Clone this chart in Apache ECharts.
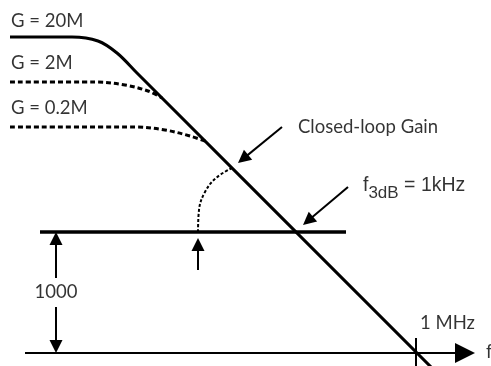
<!DOCTYPE html>
<html>
<head>
<meta charset="utf-8">
<script src="https://cdn.jsdelivr.net/npm/echarts@6/dist/echarts.min.js"></script>
<style>
  html, body { margin: 0; padding: 0; background: #fff; }
  #chart { width: 491px; height: 366px; }
</style>
</head>
<body>
<div id="chart"></div>
<script>
// Diagram units: x to the right, y upward, origin at bottom-left
const openLoopGain = [[10, 329], [72, 329], [98, 325], [117, 313], [137, 293], [433, -3]];
const gain2M = [[10, 284], [95, 284], [125, 281], [148, 275], [162, 268]];
const gain02M = [[10, 239], [135, 239], [165, 236], [190, 230], [205, 225]];
const closedLoopArc = [[198, 134], [199, 156], [205, 174], [216, 188], [232, 198]];

const closedLoopLevel = [[40, 134], [346, 134]];
const mhzTick = [[416, 28], [416, -2]];
const freqAxis = [[25, 13], [475, 13]];
// [tail, tip]
const dimArrows = [
  [[56, 88], [56, 134]],
  [[56, 59], [56, 13]],
  [[198, 96], [198, 128]],
];
const calloutArrows = [
  [[282, 239], [238, 203]],
  [[348, 179], [303, 141]],
];

const gainLabels = ["G = 20M", "G = 2M", "G = 0.2M"];
const gainLabelAt = [[11, 345], [11, 303], [11, 258]];
const noteLabels = ["Closed-loop Gain", "1 MHz", "f"];
const noteLabelAt = [[298, 239], [420, 43], [486, 14]];
const dimLabel = "1000";
const dimLabelAt = [56, 74];
const f3dbAt = [363, 173];

const chart = echarts.init(document.getElementById("chart"));

const calibriLike = "Lato";
const arialLike = "Liberation Sans";
const black = "#000";

// the triangle is centred on the line end, so pull the end back by half its length
function toHead(coords, headLen) {
  const [a, b] = coords;
  const dx = b[0] - a[0];
  const dy = b[1] - a[1];
  const len = Math.hypot(dx, dy);
  const k = (len - headLen / 2) / len;
  return [a, [a[0] + dx * k, a[1] + dy * k]];
}

function textPoint(xy, text, align) {
  return { value: [xy[0], xy[1], text], label: { align: align } };
}

const option = {
  animation: false,
  backgroundColor: "#fff",
  grid: { left: 0, right: 0, top: 0, bottom: 0 },
  xAxis: { type: "value", min: 0, max: 491, show: false },
  yAxis: { type: "value", min: 0, max: 366, show: false },
  series: [
    {
      type: "line",
      data: openLoopGain,
      smooth: 0.35,
      showSymbol: false,
      lineStyle: { color: black, width: 3 },
    },
    {
      type: "line",
      data: gain2M,
      smooth: 0.35,
      showSymbol: false,
      lineStyle: { color: black, width: 3, type: [5, 3] },
    },
    {
      type: "line",
      data: gain02M,
      smooth: 0.35,
      showSymbol: false,
      lineStyle: { color: black, width: 3, type: [5, 3] },
    },
    {
      type: "line",
      data: closedLoopArc,
      smooth: 0.4,
      showSymbol: false,
      lineStyle: { color: black, width: 2, type: [3, 2] },
    },
    {
      type: "lines",
      coordinateSystem: "cartesian2d",
      symbol: "none",
      data: [
        { coords: closedLoopLevel, lineStyle: { width: 3.5 } },
        { coords: mhzTick, lineStyle: { width: 2 } },
      ],
      lineStyle: { color: black, opacity: 1, curveness: 0 },
    },
    {
      // frequency axis with arrow
      type: "lines",
      coordinateSystem: "cartesian2d",
      symbol: ["none", "triangle"],
      symbolSize: [13, 20],
      data: [{ coords: toHead(freqAxis, 20) }],
      lineStyle: { color: black, width: 2, opacity: 1 },
      itemStyle: { color: black },
    },
    {
      type: "lines",
      coordinateSystem: "cartesian2d",
      symbol: ["none", "triangle"],
      symbolSize: [13, 13],
      data: dimArrows.concat(calloutArrows).map((c) => ({ coords: toHead(c, 13) })),
      lineStyle: { color: black, width: 2, opacity: 1 },
      itemStyle: { color: black },
    },
    {
      type: "scatter",
      symbolSize: 0,
      data: gainLabels
        .map((t, i) => textPoint(gainLabelAt[i], t, "left"))
        .concat(noteLabels.map((t, i) => textPoint(noteLabelAt[i], t, "left")))
        .concat([textPoint(dimLabelAt, dimLabel, "center")]),
      label: {
        show: true,
        position: "inside",
        verticalAlign: "middle",
        formatter: (p) => p.value[2],
        color: black,
        fontFamily: calibriLike,
        fontSize: 18.5,
      },
    },
    {
      type: "scatter",
      symbolSize: 0,
      data: [{ value: f3dbAt }],
      label: {
        show: true,
        position: "inside",
        align: "left",
        verticalAlign: "middle",
        fontFamily: arialLike,
        fontSize: 20,
        color: black,
        formatter: "{a|f}{b|3dB}{a| = 1kHz}",
        rich: {
          a: {
            fontFamily: arialLike,
            fontSize: 19.5,
            color: black,
            lineHeight: 22,
            verticalAlign: "top",
          },
          b: {
            fontFamily: arialLike,
            fontSize: 17,
            color: black,
            lineHeight: 35,
          },
        },
      },
    },
  ],
};

chart.setOption(option);
</script>
</body>
</html>
